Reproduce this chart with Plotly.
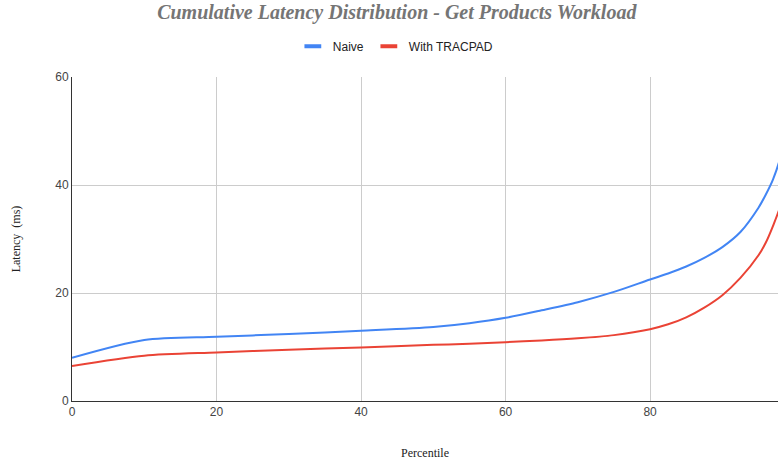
import plotly.graph_objects as go

percentile = [0, 10, 20, 30, 40, 50, 55, 60, 65, 70, 75, 80, 82.5, 85, 87.5, 90, 92.5, 95, 96, 97, 98, 99]
naive = [8.0, 11.3, 11.9, 12.4, 13.0, 13.7, 14.4, 15.4, 16.8, 18.3, 20.2, 22.5, 23.6, 24.9, 26.5, 28.5, 31.3, 35.8, 38.2, 41.0, 45.0, 52.0]
tracpad = [6.5, 8.4, 9.0, 9.5, 9.9, 10.4, 10.6, 10.9, 11.2, 11.6, 12.2, 13.3, 14.2, 15.5, 17.3, 19.6, 22.8, 27.0, 29.3, 32.4, 36.0, 42.0]

series_names = ["Naive", "With TRACPAD"]
series_colors = ["#4285F4", "#EA4335"]

title_text = "Cumulative Latency Distribution - Get Products Workload"
x_title = "Percentile"
y_title = "Latency  (ms)"

fig = go.Figure()
for name, vals, col in zip(series_names, [naive, tracpad], series_colors):
    fig.add_trace(go.Scatter(x=percentile, y=vals, mode="lines", name=name,
                             line=dict(color=col, width=2, shape="spline", smoothing=0.8),
                             showlegend=False))
    fig.add_trace(go.Scatter(x=[None], y=[None], mode="markers", name=name,
                             marker=dict(symbol="line-ew-open", size=12, color=col,
                                         line=dict(color=col, width=4)),
                             showlegend=True))

fig.update_layout(
    width=778, height=463,
    margin=dict(l=72, r=0, t=77, b=62),
    paper_bgcolor="white", plot_bgcolor="white",
    title=dict(text="<b><i>" + title_text + "</i></b>", x=0.51, xanchor="center",
               y=0.99, yanchor="top",
               font=dict(family="Liberation Serif, Times New Roman, serif", size=20, color="#757575")),
    legend=dict(orientation="h", x=0.458, xanchor="center", y=1.095, yanchor="middle",
                font=dict(family="Liberation Sans, Arial, sans-serif", size=12, color="#222222"),
                itemwidth=30, bgcolor="rgba(0,0,0,0)"),
    font=dict(family="Liberation Sans, Arial, sans-serif", size=12, color="#444444"),
    showlegend=True,
)
fig.update_xaxes(range=[0, 97.7], tickvals=[0, 20, 40, 60, 80], showgrid=True,
                 gridcolor="#cccccc", showline=True, linecolor="#333333", linewidth=1,
                 zeroline=False, ticks="", tickfont=dict(size=12, color="#444444"),
                 title=dict(text=x_title, standoff=30,
                            font=dict(family="Liberation Serif, Times New Roman, serif", size=12, color="#222222")))
fig.update_yaxes(range=[0, 60], tickvals=[0, 20, 40, 60], showgrid=True,
                 gridcolor="#cccccc", showline=True, linecolor="#333333", linewidth=1,
                 zeroline=False, ticks="", tickfont=dict(size=12, color="#444444"),
                 title=dict(text=y_title, standoff=32,
                            font=dict(family="Liberation Serif, Times New Roman, serif", size=12, color="#222222")))

fig.write_html("out.html", config={"displayModeBar": False},
               post_script="document.body.style.margin='0';document.body.style.overflow='hidden';")
